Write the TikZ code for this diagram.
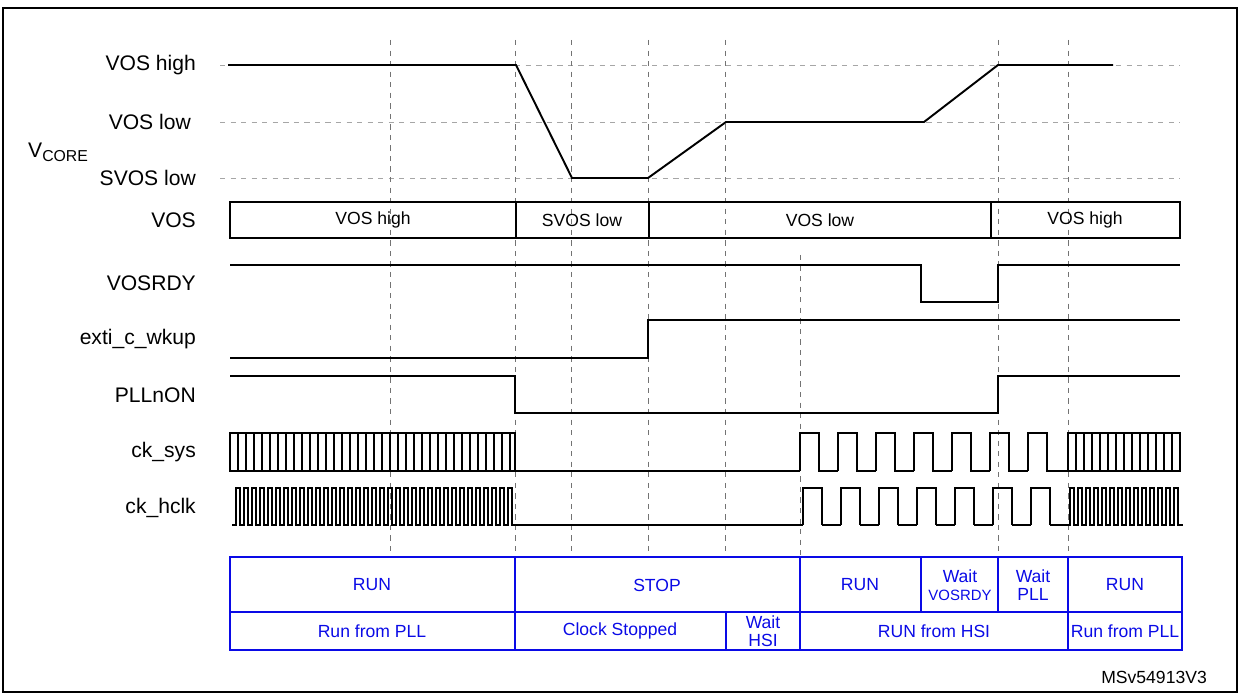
\documentclass[tikz,border=0pt]{standalone}
\usepackage{fontspec}
\setmainfont{Liberation Sans}
\definecolor{stblue}{RGB}{10,10,230}
\tikzset{
  sig/.style={line width=1.1pt},
  gridline/.style={color=gray!70,dashed,line width=0.4pt},
  marker/.style={color=gray!90!black,dashed,line width=0.5pt},
  lbl/.style={anchor=east,font=\fontsize{12}{14}\selectfont},
  cell/.style={font=\fontsize{10}{11}\selectfont,align=center,color=stblue},
}
\begin{document}
\begin{tikzpicture}[x=0.02cm,y=-0.02cm]
\useasboundingbox (0,0) rectangle (1240,695);
\draw[line width=0.6pt] (3,8) rectangle (1237,692);
% grid and markers
\foreach \y in {65,122,178} \draw[gridline] (220,\y) -- (1180,\y);
\foreach \x in {390,515,571,648,725,998,1068} \draw[marker] (\x,40) -- (\x,557);
\draw[marker] (800,255) -- (800,557);
% labels
\node[lbl] (vh) at (202,65) {VOS high};
\node[lbl] (vl) at (197,122) {VOS low};
\node[lbl] (sl) at (202,178) {SVOS low};
\node[anchor=west,font=\fontsize{12}{14}\selectfont] (vc) at (22,152) {V\textsubscript{\fontsize{9}{9}\selectfont CORE}};
\node[lbl] (vos) at (202,220) {VOS};
\node[lbl] (rdy) at (202,283) {VOSRDY};
\node[lbl] (exti) at (202,339) {exti\_c\_wkup};
\node[lbl] (pll) at (202,395) {PLLnON};
\node[lbl] (sys) at (202,452) {ck\_sys};
\node[lbl] (hclk) at (202,508) {ck\_hclk};
% VCORE
\draw[sig] (228,65) -- (516,65) -- (572,178) -- (648,178) -- (726,122) -- (924,122) -- (998,65) -- (1113,65);
% VOS bus
\draw[sig] (230,202) rectangle (1180,238);
\foreach \x in {516,649,991} \draw[sig] (\x,202) -- (\x,238);
\node (b1) at (373,220) {\fontsize{10}{11}\selectfont VOS high};
\node (b2) at (582,220) {\fontsize{10}{11}\selectfont SVOS low};
\node (b3) at (820,220) {\fontsize{10}{11}\selectfont VOS low};
\node (b4) at (1085,220) {\fontsize{10}{11}\selectfont VOS high};
% VOSRDY, exti, PLLnON
\draw[sig] (230,265) -- (921,265) -- (921,302) -- (998,302) -- (998,265) -- (1180,265);
\draw[sig] (230,358) -- (648,358) -- (648,320) -- (1180,320);
\draw[sig] (230,376) -- (515,376) -- (515,413) -- (998,413) -- (998,376) -- (1180,376);
% ck_sys
\draw[sig] (230,433) rectangle (515,471);
\foreach \x in {238,246,...,510} \draw[line width=0.7pt] (\x,433) -- (\x,471);
\draw[sig] (515,471) -- (800,471);
\foreach \x in {800,838,...,1028} \draw[sig] (\x,471) -- (\x,433) -- (\x+19,433) -- (\x+19,471) -- (\x+38,471);
\draw[sig] (1047,471) -- (1068,471);
\draw[sig] (1068,433) rectangle (1180,471);
\foreach \x in {1076,1084,...,1175} \draw[line width=0.7pt] (\x,433) -- (\x,471);
% ck_hclk
\draw[line width=0.8pt] (232,525) foreach \x in {236,244,...,508} { -- (\x,525) -- (\x,488) -- (\x+4,488) -- (\x+4,525) } -- (800,525);
\foreach \x in {803,841,879,917,955,993,1031} \draw[sig] (\x,525) -- (\x,488) -- (\x+19,488) -- (\x+19,525);
\foreach \x in {822,860,898,936,974,1012} \draw[sig] (\x,525) -- (\x+19,525);
\draw[sig] (800,525) -- (803,525) (1050,525) -- (1068,525);
\draw[line width=0.8pt] (1068,525) foreach \x in {1070,1078,...,1176} { -- (\x,525) -- (\x,488) -- (\x+4,488) -- (\x+4,525) } -- (1183,525);
% state table
\begin{scope}[color=stblue,line width=1pt]
\draw (230,557) rectangle (1182,650);
\draw (230,612) -- (1182,612);
\foreach \x in {515,800,921,998,1068} \draw (\x,557) -- (\x,612);
\foreach \x in {515,726,800,1068} \draw (\x,612) -- (\x,650);
\end{scope}
\node[cell] (r1) at (372,585) {RUN};
\node[cell] (r2) at (657,585) {STOP};
\node[cell] (r3) at (860,585) {RUN};
\node[cell] (r4) at (960,585) {Wait\\[-1pt]{\fontsize{8.5}{9}\selectfont VOSRDY}};
\node[cell] (r5) at (1033,585) {Wait\\[-1pt]PLL};
\node[cell] (r6) at (1125,585) {RUN};
\node[cell] (s1) at (372,631) {Run from PLL};
\node[cell] (s2) at (620,631) {Clock Stopped};
\node[cell] (s3) at (763,631) {Wait\\[-1pt]HSI};
\node[cell] (s4) at (934,631) {RUN from HSI};
\node[cell] (s5) at (1125,631) {Run from PLL};
\node[anchor=east,font=\fontsize{10}{11}\selectfont] (ref) at (1213,677) {MSv54913V3};
\end{tikzpicture}
\end{document}
